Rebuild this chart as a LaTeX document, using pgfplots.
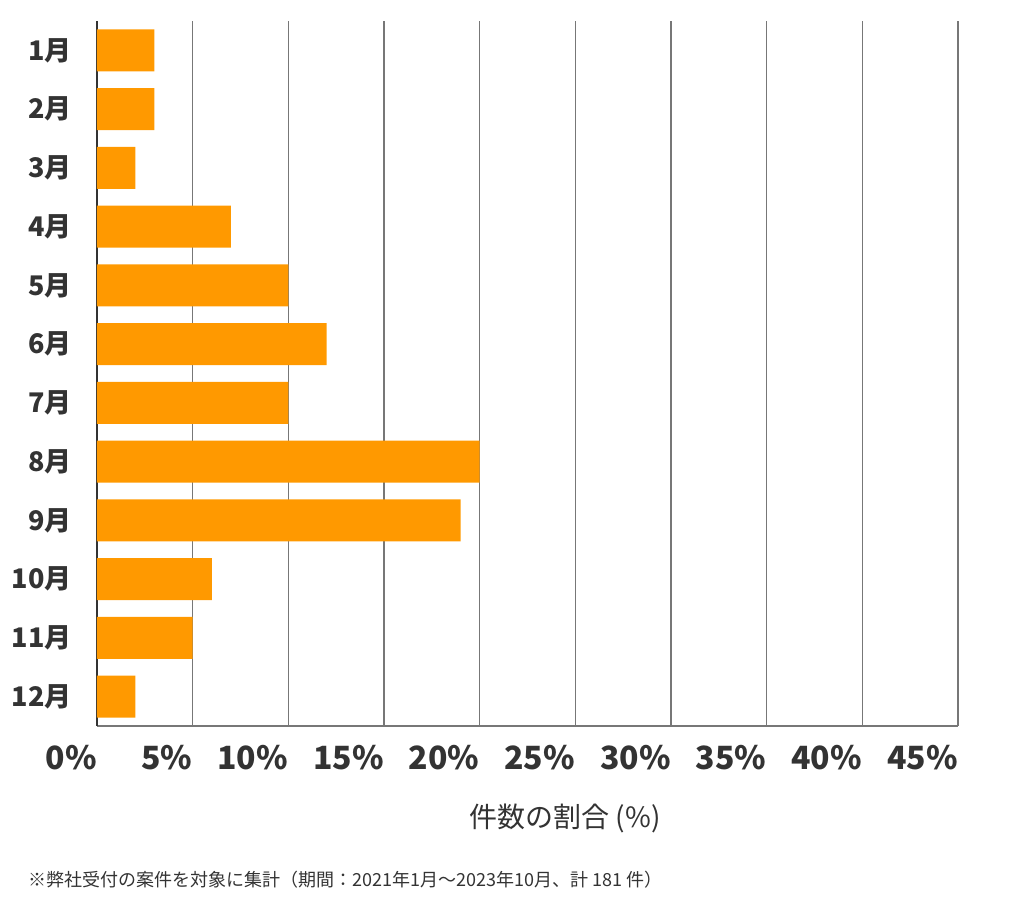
\documentclass[border=0pt]{standalone}
\usepackage{fontspec}
\setmainfont{Noto Sans CJK JP}
\usepackage{pgfplots}
\pgfplotsset{compat=1.18}
\definecolor{barorange}{HTML}{FF9900}
\definecolor{txt}{HTML}{333333}
\definecolor{gridc}{HTML}{777777}
\begin{document}
\begin{tikzpicture}
\path[use as bounding box] (0,0) rectangle (512pt,452.5pt);
\begin{axis}[
  at={(48.5pt,89.5pt)}, anchor=south west,
  scale only axis, width=430.5pt, height=352.5pt,
  xbar, bar width=21pt,
  xmin=0, xmax=45, ymin=0.5, ymax=12.5, y dir=reverse,
  axis x line*=bottom, axis y line*=left,
  x axis line style={gridc, line width=0.8pt},
  y axis line style={txt, line width=0.8pt},
  xtick={0,5,...,45},
  xticklabels={0\%,5\%,10\%,15\%,20\%,25\%,30\%,35\%,40\%,45\%},
  xmajorgrids, grid style={gridc, line width=0.6pt},
  major tick length=0pt,
  ytick={1,...,12},
  yticklabels={1月,2月,3月,4月,5月,6月,7月,8月,9月,10月,11月,12月},
  xticklabel style={font=\fontsize{16}{16}\selectfont\bfseries, text=txt, anchor=north east, inner sep=0pt, yshift=-9.5pt},
  yticklabel style={font=\fontsize{13.5}{13.5}\selectfont\bfseries, text=txt, anchor=east, inner sep=0pt, xshift=-12.5pt},
]
\addplot[fill=barorange, draw=none] coordinates {
(3,1) (3,2) (2,3) (7,4) (10,5) (12,6) (10,7) (20,8) (19,9) (6,10) (5,11) (2,12)
};
\end{axis}
\node[text=txt, font=\fontsize{14}{14}\selectfont, inner sep=0pt] at (282.5pt,43.5pt) {件数の割合 (\%)};
\node[text=txt, font=\fontsize{9}{9}\selectfont, inner sep=0pt, anchor=west] at (14pt,12.5pt) {※弊社受付の案件を対象に集計（期間：2021年1月～2023年10月、計 181 件）};
\end{tikzpicture}
\end{document}
